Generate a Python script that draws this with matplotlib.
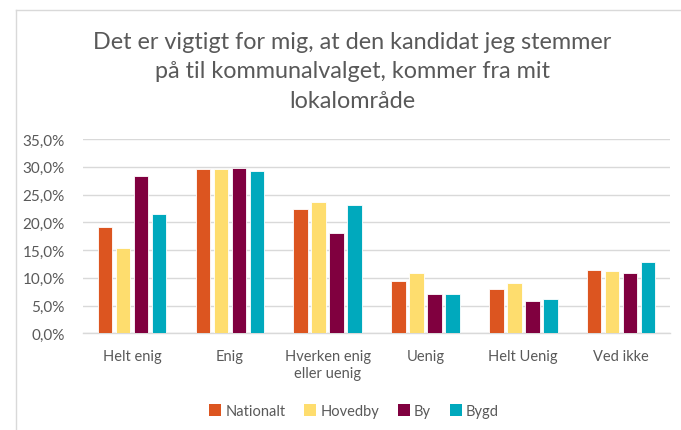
import matplotlib
matplotlib.use("Agg")
import matplotlib.pyplot as plt
from matplotlib.lines import Line2D
from matplotlib.patches import Patch
import numpy as np

plt.rcParams['font.family'] = ['Lato', 'DejaVu Sans']

categories = ["Helt enig", "Enig", "Hverken enig\neller uenig", "Uenig", "Helt Uenig", "Ved ikke"]
series_names = ["Nationalt", "Hovedby", "By", "Bygd"]
nationalt = [19.2, 29.6, 22.3, 9.5, 7.9, 11.4]
hovedby = [15.4, 29.6, 23.6, 10.9, 9.1, 11.2]
by = [28.3, 29.7, 18.0, 7.1, 5.8, 10.9]
bygd = [21.4, 29.2, 23.1, 7.0, 6.2, 12.8]
yticks = [0, 5, 10, 15, 20, 25, 30, 35]
title = "Det er vigtigt for mig, at den kandidat jeg stemmer\npå til kommunalvalget, kommer fra mit\nlokalområde"

colors = ["#DC5520", "#FEDD6E", "#80003F", "#00A9BD"]
text_color = "#595959"
grid_color = "#D9D9D9"

fig = plt.figure(figsize=(6.81, 4.31), dpi=100)
ax = fig.add_axes([0.1219, 0.2244, 0.8620, 0.4508])

x = np.arange(len(categories))
step = 0.184
width = 0.148
all_series = [nationalt, hovedby, by, bygd]
for i, (vals, col) in enumerate(zip(all_series, colors)):
    offs = (i - 1.5) * step
    ax.bar(x + offs, [v / 100 for v in vals], width=width, color=col,
           edgecolor="white", linewidth=0.6, zorder=3)

ax.set_xlim(-0.5, len(categories) - 0.5)
ax.set_ylim(0, 0.35)
ax.set_yticks([t / 100 for t in yticks])
ax.set_yticklabels([f"{t:.1f}%".replace(".", ",") for t in yticks])
ax.set_xticks(x)
ax.set_xticklabels(categories, linespacing=1.35)
ax.tick_params(axis="both", length=0, colors=text_color)
ax.tick_params(axis="x", pad=11, labelsize=10.5)
ax.tick_params(axis="y", pad=13, labelsize=11)
ax.yaxis.grid(True, color=grid_color, linewidth=1.0, zorder=0)
for s in ["top", "right", "left"]:
    ax.spines[s].set_visible(False)
ax.spines["bottom"].set_color(grid_color)
ax.spines["bottom"].set_linewidth(1.0)

fig.text(352.5 / 681, 1 - 72 / 431, title, ha="center", va="center", fontsize=16.8,
         color=text_color, linespacing=1.5)

handles = [Patch(facecolor=c, edgecolor="none") for c in colors]
fig.legend(handles, series_names, loc="center", bbox_to_anchor=(0.52, 0.044),
           ncol=4, frameon=False, fontsize=10.5, handlelength=0.8, handleheight=0.8,
           handletextpad=0.3, columnspacing=1.3, labelcolor=text_color)

# chart frame (top and left edges)
fig.add_artist(Line2D([16 / 681, 16 / 681], [0, 1 - 11 / 431], transform=fig.transFigure,
                      color="#D9D9D9", linewidth=1.0))
fig.add_artist(Line2D([16 / 681, 1], [1 - 11 / 431, 1 - 11 / 431], transform=fig.transFigure,
                      color="#D9D9D9", linewidth=1.0))

fig.savefig("out.png", dpi=100)
